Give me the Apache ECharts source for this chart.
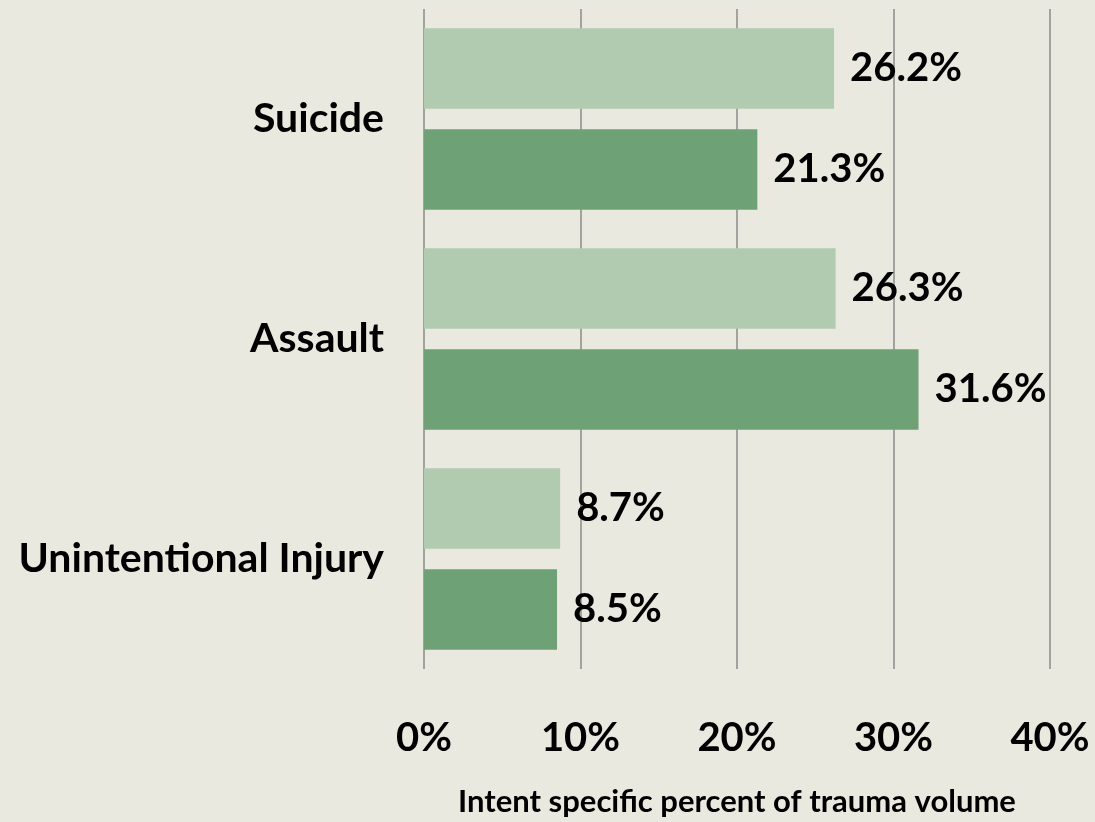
<!DOCTYPE html>
<html>
<head>
<meta charset="utf-8">
<script src="https://cdn.jsdelivr.net/npm/echarts@6/dist/echarts.min.js"></script>
<style>
  html, body { margin: 0; padding: 0; background: #e9e9df; }
  #chart { width: 1095px; height: 822px; }
</style>
</head>
<body>
<div id="chart"></div>
<script>
var categories = ['Suicide', 'Assault', 'Unintentional Injury'];
var lightValues = [26.2, 26.3, 8.7];
var darkValues = [21.3, 31.6, 8.5];
var xTicks = [0, 10, 20, 30, 40];

var myChart = echarts.init(document.getElementById('chart'));
var font = 'Lato, "Open Sans", sans-serif';
var option = {
    backgroundColor: '#e9e9df',
    textStyle: { fontFamily: font },
    grid: { left: 424, right: 45, top: 9, bottom: 149 },
    xAxis: {
        type: 'value',
        min: xTicks[0],
        max: xTicks[xTicks.length - 1],
        interval: 10,
        axisLine: { show: false },
        axisTick: { show: false },
        splitLine: { show: true, lineStyle: { color: '#8a8a8a', width: 1.5 } },
        axisLabel: {
            margin: 49, fontSize: 40, fontWeight: 'bold', color: '#000', fontFamily: font,
            formatter: '{value}%'
        },
        name: 'Intent specific percent of trauma volume',
        nameLocation: 'middle',
        nameGap: 117,
        nameTextStyle: { fontSize: 31, fontWeight: 'bold', color: '#000', fontFamily: font }
    },
    yAxis: {
        type: 'category',
        inverse: true,
        data: categories,
        axisLine: { show: false },
        axisTick: { show: false },
        axisLabel: { margin: 40, fontSize: 41, fontWeight: 'bold', color: '#000', fontFamily: font }
    },
    series: [
        {
            name: 'light',
            type: 'bar',
            data: lightValues,
            barGap: '25.6%',
            barCategoryGap: '17.6%',
            itemStyle: { color: '#b0cbb0' },
            label: {
                show: true, position: 'right', distance: 16, formatter: '{c}%',
                fontSize: 40, fontWeight: 'bold', color: '#000', fontFamily: font
            }
        },
        {
            name: 'dark',
            type: 'bar',
            data: darkValues,
            barGap: '25.6%',
            barCategoryGap: '17.6%',
            itemStyle: { color: '#6fa176' },
            label: {
                show: true, position: 'right', distance: 16, formatter: '{c}%',
                fontSize: 40, fontWeight: 'bold', color: '#000', fontFamily: font
            }
        }
    ]
};
myChart.setOption(option);
</script>
</body>
</html>
